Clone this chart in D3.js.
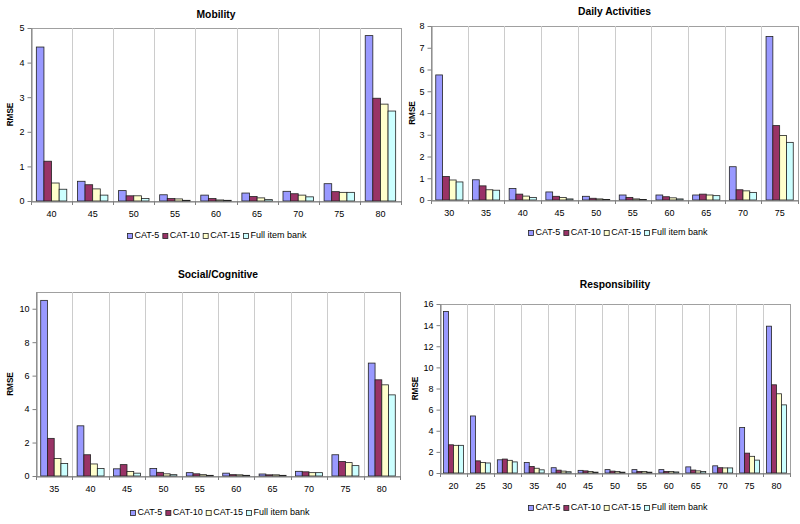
<!DOCTYPE html>
<html><head><meta charset="utf-8">
<script src="https://cdn.jsdelivr.net/npm/d3@7"></script>
<style>
html,body{margin:0;padding:0;background:#fff;}
svg{display:block;font-family:"Liberation Sans",Arial,sans-serif;}
</style></head>
<body><svg id="chart" width="800" height="524"></svg>
<script>
const seriesNames = ["CAT-5","CAT-10","CAT-15","Full item bank"];
const seriesColors = ["#9999ff","#993366","#ffffcc","#ccffff"];

const mobilityCats = ["40","45","50","55","60","65","70","75","80"];
const mobilityCat5  = [4.45,0.57,0.30,0.18,0.17,0.23,0.28,0.50,4.78];
const mobilityCat10 = [1.15,0.47,0.15,0.07,0.07,0.13,0.21,0.27,2.97];
const mobilityCat15 = [0.52,0.35,0.15,0.06,0.03,0.09,0.17,0.25,2.80];
const mobilityFull  = [0.34,0.17,0.07,0.02,0.02,0.04,0.12,0.25,2.60];
const mobilityTicks = [0,1,2,3,4,5];

const dailyCats = ["30","35","40","45","50","55","60","65","70","75"];
const dailyCat5  = [5.75,0.93,0.53,0.37,0.17,0.23,0.23,0.23,1.53,7.52];
const dailyCat10 = [1.08,0.65,0.27,0.17,0.08,0.12,0.15,0.27,0.47,3.42];
const dailyCat15 = [0.92,0.47,0.18,0.12,0.05,0.05,0.10,0.23,0.42,2.97];
const dailyFull  = [0.83,0.45,0.12,0.05,0.02,0.02,0.05,0.20,0.35,2.65];
const dailyTicks = [0,1,2,3,4,5,6,7,8];

const socialCats = ["35","40","45","50","55","60","65","70","75","80"];
const socialCat5  = [10.5,3.0,0.43,0.45,0.20,0.17,0.12,0.28,1.27,6.75];
const socialCat10 = [2.25,1.27,0.68,0.22,0.13,0.08,0.07,0.25,0.87,5.75];
const socialCat15 = [1.05,0.72,0.27,0.13,0.08,0.07,0.07,0.20,0.80,5.45];
const socialFull  = [0.75,0.45,0.17,0.08,0.04,0.04,0.04,0.20,0.62,4.85];
const socialTicks = [0,2,4,6,8,10];

const respCats = ["20","25","30","35","40","45","50","55","60","65","70","75","80"];
const respCat5  = [15.3,5.4,1.25,1.0,0.50,0.25,0.32,0.32,0.32,0.58,0.68,4.3,13.9];
const respCat10 = [2.67,1.15,1.32,0.62,0.27,0.20,0.18,0.15,0.15,0.28,0.50,1.88,8.35];
const respCat15 = [2.62,1.0,1.2,0.45,0.18,0.15,0.15,0.15,0.15,0.20,0.48,1.58,7.5];
const respFull  = [2.62,0.95,1.05,0.30,0.12,0.08,0.08,0.08,0.10,0.15,0.48,1.22,6.45];
const respTicks = [0,2,4,6,8,10,12,14,16];

const panels = [
  {title:"Mobility", cats:mobilityCats, series:[mobilityCat5,mobilityCat10,mobilityCat15,mobilityFull], ticks:mobilityTicks, ymax:5,
   x0:31, x1:401, y0:28, y1:201, titleY:17.5, ylabX:10.5, legY:236, legX:127},
  {title:"Daily Activities", cats:dailyCats, series:[dailyCat5,dailyCat10,dailyCat15,dailyFull], ticks:dailyTicks, ymax:8,
   x0:431, x1:798, y0:26, y1:200, titleY:14.5, ylabX:412.5, legY:233, legX:528},
  {title:"Social/Cognitive", cats:socialCats, series:[socialCat5,socialCat10,socialCat15,socialFull], ticks:socialTicks, ymax:11,
   x0:36, x1:400, y0:292, y1:476, titleY:277.5, ylabX:11, legY:513, legX:130},
  {title:"Responsibility", cats:respCats, series:[respCat5,respCat10,respCat15,respFull], ticks:respTicks, ymax:16,
   x0:440, x1:790, y0:304, y1:473, titleY:288, ylabX:416, legY:508, legX:528}
];

const svg = d3.select("#chart");
const FONT = "Liberation Sans, Arial, sans-serif";

panels.forEach(p => {
  const g = svg.append("g");
  const x = d3.scaleBand().domain(p.cats).range([p.x0, p.x1]).paddingInner(0).paddingOuter(0);
  const xs = d3.scaleBand().domain(d3.range(4)).range([0, x.bandwidth()]).paddingOuter(0.7).paddingInner(0);
  const y = d3.scaleLinear().domain([0, p.ymax]).range([p.y1, p.y0]);

  // plot border
  g.append("rect").attr("x", p.x0 + 0.5).attr("y", p.y0 + 0.5).attr("width", p.x1 - p.x0).attr("height", p.y1 - p.y0)
    .attr("fill", "#fff").attr("stroke", "#a0a0a0").attr("stroke-width", 1);

  // vertical gridlines at category boundaries
  g.selectAll(".vg").data(p.cats.slice(1)).enter().append("line")
    .attr("x1", d => Math.round(x(d)) + 0.5).attr("x2", d => Math.round(x(d)) + 0.5)
    .attr("y1", p.y0).attr("y2", p.y1).attr("stroke", "#cccccc").attr("stroke-width", 1);

  // bars
  p.series.forEach((vals, si) => {
    g.selectAll(".b" + si).data(vals).enter().append("rect")
      .attr("x", (d, i) => x(p.cats[i]) + xs(si))
      .attr("y", d => y(d))
      .attr("width", xs.bandwidth())
      .attr("height", d => y(0) - y(d))
      .attr("fill", seriesColors[si]).attr("stroke", "#222").attr("stroke-width", 0.8);
  });

  // y axis
  const ya = d3.axisLeft(y).tickValues(p.ticks).tickFormat(d3.format("d")).tickSize(4).tickSizeOuter(0).tickPadding(3);
  const yg = g.append("g").attr("transform", `translate(${p.x0 + 0.5},0)`).call(ya);
  yg.select(".domain").attr("stroke", "#808080");
  yg.selectAll(".tick line").attr("stroke", "#808080");
  yg.selectAll("text").attr("font-size", 9).attr("fill", "#000").attr("font-family", FONT);

  // x axis
  const xa = d3.axisBottom(x).tickSize(0).tickPadding(9);
  const xg = g.append("g").attr("transform", `translate(0,${p.y1 + 0.5})`).call(xa);
  xg.select(".domain").attr("stroke", "#808080");
  xg.selectAll("text").attr("font-size", 9).attr("fill", "#000").attr("font-family", FONT);
  // category boundary tick marks
  g.selectAll(".xt").data(p.cats.concat(["_end"])).enter().append("line")
    .attr("x1", (d, i) => Math.round(p.x0 + i * x.step()) + 0.5)
    .attr("x2", (d, i) => Math.round(p.x0 + i * x.step()) + 0.5)
    .attr("y1", p.y1).attr("y2", p.y1 + 4).attr("stroke", "#808080");

  // title
  g.append("text").attr("x", (p.x0 + p.x1) / 2).attr("y", p.titleY).attr("text-anchor", "middle")
    .attr("font-size", 10.3).attr("font-weight", "bold").text(p.title);

  // y label
  g.append("text").attr("transform", `translate(${p.ylabX},${(p.y0 + p.y1) / 2}) rotate(-90)`)
    .attr("text-anchor", "middle").attr("dominant-baseline", "middle")
    .attr("font-size", 8.2).attr("font-weight", "bold").text("RMSE");

  // legend
  const lg = g.append("g").attr("transform", `translate(${p.legX},${p.legY})`);
  let lx = 0;
  seriesNames.forEach((n, i) => {
    lg.append("rect").attr("x", lx + 0.5).attr("y", -2.5).attr("width", 5).attr("height", 5)
      .attr("fill", seriesColors[i]).attr("stroke", "#222").attr("stroke-width", 0.8);
    const t = lg.append("text").attr("x", lx + 7.5).attr("y", 0).attr("dominant-baseline", "middle")
      .attr("font-size", 9).text(n);
    lx += 7.5 + t.node().getComputedTextLength() + 3;
  });
});
</script>
</body></html>
